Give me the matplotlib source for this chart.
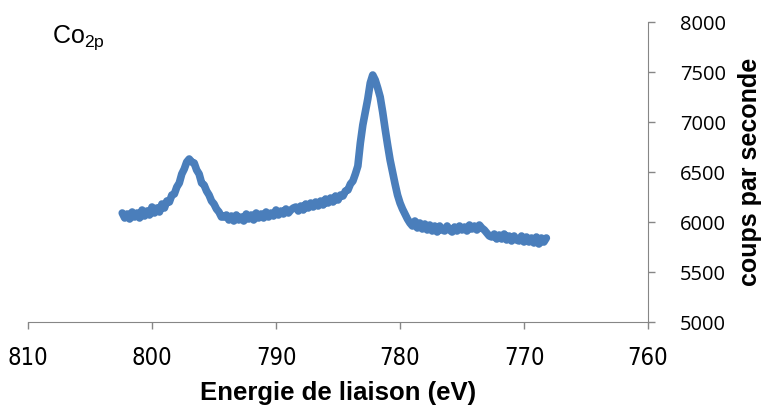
import matplotlib.pyplot as plt

# Co 2p XPS spectrum
energie = [802.4, 802.2, 802.0, 801.8, 801.6, 801.4, 801.2, 801.0, 800.8, 800.6,
           800.4, 800.2, 800.0, 799.8, 799.6, 799.4, 799.2, 799.0, 798.8, 798.6,
           798.4, 798.2, 798.0, 797.8, 797.6, 797.4, 797.2, 797.0, 796.8, 796.6,
           796.4, 796.2, 796.0, 795.8, 795.6, 795.4, 795.2, 795.0, 794.8, 794.6,
           794.4, 794.2, 794.0, 793.8, 793.6, 793.4, 793.2, 793.0, 792.8, 792.6,
           792.4, 792.2, 792.0, 791.8, 791.6, 791.4, 791.2, 791.0, 790.8, 790.6,
           790.4, 790.2, 790.0, 789.8, 789.6, 789.4, 789.2, 789.0, 788.8, 788.6,
           788.4, 788.2, 788.0, 787.8, 787.6, 787.4, 787.2, 787.0, 786.8, 786.6,
           786.4, 786.2, 786.0, 785.8, 785.6, 785.4, 785.2, 785.0, 784.8, 784.6,
           784.4, 784.2, 784.0, 783.8, 783.6, 783.4, 783.2, 783.0, 782.8, 782.6,
           782.4, 782.2, 782.0, 781.8, 781.6, 781.4, 781.2, 781.0, 780.8, 780.6,
           780.4, 780.2, 780.0, 779.8, 779.6, 779.4, 779.2, 779.0, 778.8, 778.6,
           778.4, 778.2, 778.0, 777.8, 777.6, 777.4, 777.2, 777.0, 776.8, 776.6,
           776.4, 776.2, 776.0, 775.8, 775.6, 775.4, 775.2, 775.0, 774.8, 774.6,
           774.4, 774.2, 774.0, 773.8, 773.6, 773.4, 773.2, 773.0, 772.8, 772.6,
           772.4, 772.2, 772.0, 771.8, 771.6, 771.4, 771.2, 771.0, 770.8, 770.6,
           770.4, 770.2, 770.0, 769.8, 769.6, 769.4, 769.2, 769.0, 768.8, 768.6,
           768.4, 768.2]
coups = [6090, 6040, 6080, 6030, 6100, 6050, 6090, 6040, 6120, 6060,
         6110, 6070, 6150, 6090, 6140, 6100, 6180, 6140, 6210, 6200,
         6270, 6280, 6350, 6390, 6480, 6530, 6600, 6630, 6600, 6590,
         6520, 6480, 6390, 6370, 6310, 6270, 6210, 6180, 6130, 6100,
         6050, 6050, 6070, 6020, 6060, 6010, 6070, 6020, 6050, 6010,
         6080, 6030, 6070, 6020, 6090, 6040, 6080, 6040, 6100, 6050,
         6090, 6060, 6120, 6070, 6110, 6080, 6130, 6090, 6120, 6140,
         6150, 6110, 6160, 6120, 6180, 6140, 6190, 6150, 6200, 6160,
         6210, 6170, 6230, 6190, 6240, 6200, 6260, 6220, 6270, 6260,
         6310, 6320, 6380, 6410, 6480, 6560, 6790, 6970, 7100, 7230,
         7390, 7470, 7420, 7340, 7250, 7100, 6930, 6770, 6620, 6500,
         6380, 6270, 6190, 6130, 6080, 6030, 5990, 5960, 6010, 5940,
         5990, 5930, 5980, 5920, 5970, 5910, 5960, 5900, 5960, 5920,
         5910, 5960, 5920, 5900, 5950, 5910, 5960, 5920, 5950, 5910,
         5970, 5930, 5960, 5920, 5970, 5940, 5920, 5890, 5860, 5850,
         5880, 5830, 5870, 5830, 5880, 5820, 5860, 5810, 5860, 5820,
         5810, 5860, 5800, 5850, 5800, 5840, 5790, 5850, 5780, 5840,
         5800, 5840]

grey = '#868686'

fig = plt.figure(figsize=(7.65, 4.09), dpi=100)
ax = fig.add_axes([0.0366, 0.2127, 0.8105, 0.7335])

ax.plot(energie, coups, color='#4A7EBB', linewidth=5.5, solid_joinstyle='round',
        solid_capstyle='round')

ax.set_xlim(810, 760)
ax.set_ylim(5000, 8000)
ax.set_xticks([810, 800, 790, 780, 770, 760])
ax.set_yticks([5000, 5500, 6000, 6500, 7000, 7500, 8000])

# Excel-like axes: bottom and right only
ax.spines['top'].set_visible(False)
ax.spines['left'].set_visible(False)
ax.spines['bottom'].set_color(grey)
ax.spines['right'].set_color(grey)
ax.yaxis.tick_right()
ax.yaxis.set_label_position('right')
ax.tick_params(axis='both', direction='out', length=5, color=grey, width=1)
ax.tick_params(axis='x', labelsize=17, pad=12)
ax.tick_params(axis='y', labelsize=14.5, pad=18)
for lab in ax.get_xticklabels():
    lab.set_family('DejaVu Sans')
    lab.set_stretch('condensed')
for lab in ax.get_yticklabels():
    lab.set_family(['Open Sans', 'DejaVu Sans'])

ax.set_xlabel('Energie de liaison (eV)', fontsize=18.5, fontweight='bold',
              family=['Liberation Sans', 'DejaVu Sans'], labelpad=8)
ax.set_ylabel('coups par seconde', fontsize=18, fontweight='bold',
              family=['Liberation Sans', 'DejaVu Sans'], labelpad=9)

ax.text(0.038, 0.995, r'Co$_{\mathregular{2p}}$', transform=ax.transAxes,
        fontsize=18, family=['Liberation Sans', 'DejaVu Sans'], va='top', ha='left')

plt.savefig('out.png', dpi=100)
